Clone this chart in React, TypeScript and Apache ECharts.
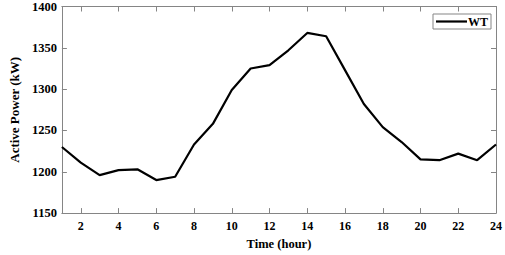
import React, { useEffect, useRef } from "react";
import * as echarts from "echarts";

const hours = [1, 2, 3, 4, 5, 6, 7, 8, 9, 10, 11, 12, 13, 14, 15, 16, 17, 18, 19, 20, 21, 22, 23, 24];
const wtPower = [1230, 1211, 1196, 1202, 1203, 1190, 1194, 1233, 1258, 1299, 1325, 1329, 1347, 1368, 1364, 1323, 1282, 1254, 1236, 1215, 1214, 1222, 1214, 1233];
const xTicks = [2, 4, 6, 8, 10, 12, 14, 16, 18, 20, 22, 24];
const yTicks = [1150, 1200, 1250, 1300, 1350, 1400];

const FONT = "Liberation Serif";
const AXIS_COLOR = "#858585";

export default function App() {
  const ref = useRef<HTMLDivElement>(null);
  useEffect(() => {
    if (!ref.current) return;
    const chart = echarts.init(ref.current, null, { renderer: "svg" });
    const labelStyle = {
      fontFamily: FONT,
      fontWeight: "bold" as const,
      fontSize: 12,
      color: "#000",
      formatter: (v: number) => String(v),
    };
    const lineStyle = { color: AXIS_COLOR, width: 1 };
    chart.setOption({
      animation: false,
      backgroundColor: "#fff",
      textStyle: { fontFamily: FONT },
      grid: { left: 45, right: 8, top: 5, bottom: 37 },
      legend: {
        data: [{ name: "WT", icon: "rect" }],
        left: 433,
        top: 14,
        padding: [1, 3, 1, 3],
        itemWidth: 31,
        itemHeight: 2.2,
        borderColor: AXIS_COLOR,
        borderWidth: 1,
        borderRadius: 0,
        textStyle: { fontFamily: FONT, fontWeight: "bold", fontSize: 12, color: "#000", padding: [0, 0, 0, -4], lineHeight: 13 },
      },
      xAxis: [
        {
          type: "value",
          min: 1,
          max: 24,
          position: "bottom",
          name: "Time (hour)",
          nameLocation: "middle",
          nameGap: 23,
          nameTextStyle: { fontFamily: FONT, fontWeight: "bold", fontSize: 12.5, color: "#000" },
          axisLine: { show: true, onZero: false, lineStyle },
          axisTick: { show: true, inside: true, length: 5, lineStyle, customValues: xTicks },
          axisLabel: { ...labelStyle, margin: 7, customValues: xTicks },
          splitLine: { show: false },
        },
        {
          type: "value",
          min: 1,
          max: 24,
          position: "top",
          axisLine: { show: true, onZero: false, lineStyle },
          axisTick: { show: true, inside: true, length: 5, lineStyle, customValues: xTicks },
          axisLabel: { show: false },
          splitLine: { show: false },
        },
      ],
      yAxis: [
        {
          type: "value",
          min: 1150,
          max: 1400,
          interval: 50,
          position: "left",
          name: "Active Power (kW)",
          nameLocation: "middle",
          nameGap: 31,
          nameTextStyle: { fontFamily: FONT, fontWeight: "bold", fontSize: 13, color: "#000" },
          axisLine: { show: true, onZero: false, lineStyle },
          axisTick: { show: true, inside: true, length: 5, lineStyle, customValues: yTicks },
          axisLabel: { ...labelStyle, fontSize: 12.5, margin: 5, customValues: yTicks },
          splitLine: { show: false },
        },
        {
          type: "value",
          min: 1150,
          max: 1400,
          interval: 50,
          position: "right",
          axisLine: { show: true, onZero: false, lineStyle },
          axisTick: { show: true, inside: true, length: 5, lineStyle },
          axisLabel: { show: false },
          splitLine: { show: false },
        },
      ],
      series: [
        {
          name: "WT",
          type: "line",
          xAxisIndex: 0,
          yAxisIndex: 0,
          symbol: "none",
          data: hours.map((h, i) => [h, wtPower[i]]),
          lineStyle: { color: "#000", width: 2.2 },
          itemStyle: { color: "#000" },
        },
      ],
    });
    return () => chart.dispose();
  }, []);
  return <div ref={ref} style={{ position: "fixed", left: 0, top: 0, width: 505, height: 255 }} />;
}
